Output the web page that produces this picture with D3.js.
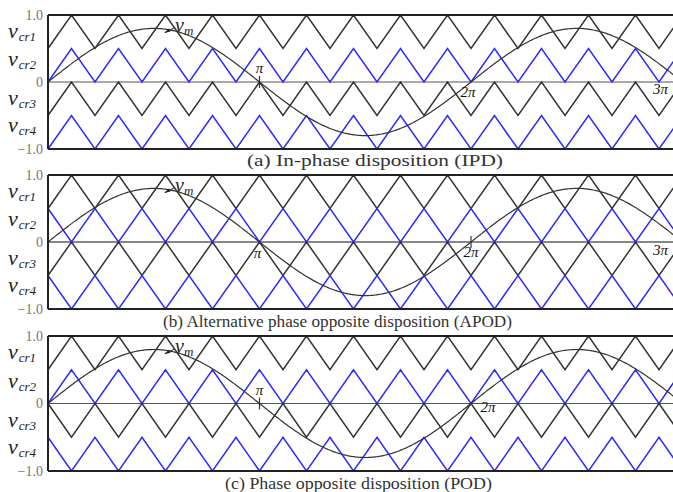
<!DOCTYPE html>
<meta charset="utf-8">
<style>
  body { margin: 0; background: #fff; }
  svg text { font-family: "Liberation Serif", "Times New Roman", "DejaVu Serif", serif; }
</style>
<script src="https://d3js.org/d3.v7.min.js"></script>
<div id="chart"></div>
<script>

// carrier levels (vcr1..vcr4) and which ones start at their minimum
var carrierNames = ["1", "2", "3", "4"];
var carrierLevels = [[0.5, 1], [0, 0.5], [-0.5, 0], [-1, -0.5]];
var carrierColors = ["#333", "#2a2aff", "#333", "#2a2aff"];
var panelNames = ["(a)  In-phase disposition (IPD)",
                  "(b) Alternative phase opposite disposition (APOD)",
                  "(c) Phase opposite disposition (POD)"];
var risingStart = [[true, true, true, true],
                   [true, false, true, false],
                   [true, true, false, false]];
var carrierRatio = 9;      // carrier periods per 2π
var modAmplitude = 0.8;    // peak of v_m
var yTicks = [1, 0, -1];
var carrierLabelY = [0.73, 0.31, -0.27, -0.67];

// π marks per panel: [multiple, label dx, label dy, tick]
var piMarks = [
  [[1, 0, -9, true], [2, -3, 15, false], [3, -22, 12, false]],
  [[1, -2, 16, false], [2, 0, 15, true], [3, -22, 13, false]],
  [[1, 0, -9, true], [2, 17, 8, false]]
];

var width = 673, height = 492;
var panelTop = [15, 175, 336], panelH = [134, 134, 135];
var captionPos = [[247, 166, 256], [163, 327, 349], [225, 489, 267]];
var serif = "'Liberation Serif', 'Times New Roman', serif";

var svg = d3.select("#chart").append("svg")
  .attr("width", width).attr("height", height)
  .attr("font-family", serif);

var x = d3.scaleLinear().domain([0, 3 * Math.PI]).range([48, 682.5]);
var half = Math.PI / carrierRatio; // half carrier period

panelNames.forEach(function(name, p) {
  var y = d3.scaleLinear().domain([-1, 1]).range([panelTop[p] + panelH[p], panelTop[p]]);
  var g = svg.append("g");
  var line = d3.line().x(function(d) { return x(d[0]); }).y(function(d) { return y(d[1]); });

  // zero line
  g.append("line").attr("x1", x(0)).attr("x2", width)
    .attr("y1", y(0)).attr("y2", y(0))
    .attr("stroke", p == 1 ? "#111" : "#555").attr("stroke-width", 1.2);

  // carriers
  carrierLevels.forEach(function(lv, c) {
    var pts = [];
    for (var k = 0; k * half <= 3 * Math.PI + half; k++) {
      var atMin = (k % 2 == 0) == risingStart[p][c];
      pts.push([k * half, atMin ? lv[0] : lv[1]]);
    }
    g.append("path").datum(pts).attr("d", line)
      .attr("fill", "none").attr("stroke", carrierColors[c]).attr("stroke-width", 1.5);
  });

  // modulating wave
  var sine = d3.range(0, 3 * Math.PI, 0.02).map(function(t) { return [t, modAmplitude * Math.sin(t)]; });
  g.append("path").datum(sine).attr("d", line)
    .attr("fill", "none").attr("stroke", "#333").attr("stroke-width", 1.2);

  // frame
  g.append("line").attr("x1", x(0)).attr("x2", width).attr("y1", y(1)).attr("y2", y(1))
    .attr("stroke", "#222").attr("stroke-width", 2);
  g.append("line").attr("x1", x(0)).attr("x2", width).attr("y1", y(-1)).attr("y2", y(-1))
    .attr("stroke", "#222").attr("stroke-width", 2);
  g.append("line").attr("x1", x(0)).attr("x2", x(0)).attr("y1", y(1)).attr("y2", y(-1))
    .attr("stroke", "#222").attr("stroke-width", 2);

  // y tick labels
  yTicks.forEach(function(v) {
    g.append("text").attr("x", 43).attr("y", y(v) + 4.5)
      .attr("text-anchor", "end").attr("fill", "#777").attr("font-family", serif)
      .style("font-size", "14px")
      .text(v == 0 ? "0" : d3.format(".1f")(v));
  });

  // carrier labels
  carrierNames.forEach(function(n, c) {
    var t = g.append("text").attr("x", 8).attr("y", y(carrierLabelY[c]) + 5)
      .attr("fill", "#222").attr("font-family", serif).style("font-style", "italic");
    t.append("tspan").style("font-size", "22px").text("v");
    t.append("tspan").attr("dy", 3).attr("dx", 1).style("font-size", "13px").text("cr" + n);
  });

  // π marks
  piMarks[p].forEach(function(m) {
    if (m[3]) {
      g.append("line").attr("x1", x(m[0] * Math.PI)).attr("x2", x(m[0] * Math.PI))
        .attr("y1", y(0) - 6).attr("y2", y(0) + 6).attr("stroke", "#333").attr("stroke-width", 1.2);
    }
    g.append("text").attr("x", x(m[0] * Math.PI) + m[1]).attr("y", y(0) + m[2])
      .attr("text-anchor", "middle").attr("fill", "#111").attr("font-family", serif)
      .style("font-size", "15px").style("font-style", "italic")
      .text((m[0] == 1 ? "" : m[0]) + "π");
  });

  // v_m label with arrow
  var ay = y(0.76);
  g.append("line").attr("x1", 174).attr("y1", ay - 3).attr("x2", 165).attr("y2", ay + 1.5)
    .attr("stroke", "#222").attr("stroke-width", 1);
  g.append("path").attr("d", "M164," + (ay + 2) + "l5,-4.5l1.5,3z").attr("fill", "#222");
  var vm = g.append("text").attr("x", 175).attr("y", ay + 1)
    .attr("fill", "#222").attr("font-family", serif).style("font-style", "italic");
  vm.append("tspan").style("font-size", "20px").text("v");
  vm.append("tspan").attr("dy", 3).style("font-size", "13px").text("m");

  // caption
  svg.append("text").attr("x", captionPos[p][0]).attr("y", captionPos[p][1])
    .attr("fill", "#333").attr("font-family", serif)
    .attr("textLength", captionPos[p][2]).attr("lengthAdjust", "spacingAndGlyphs")
    .style("font-size", "17px").text(name);
});
</script>
